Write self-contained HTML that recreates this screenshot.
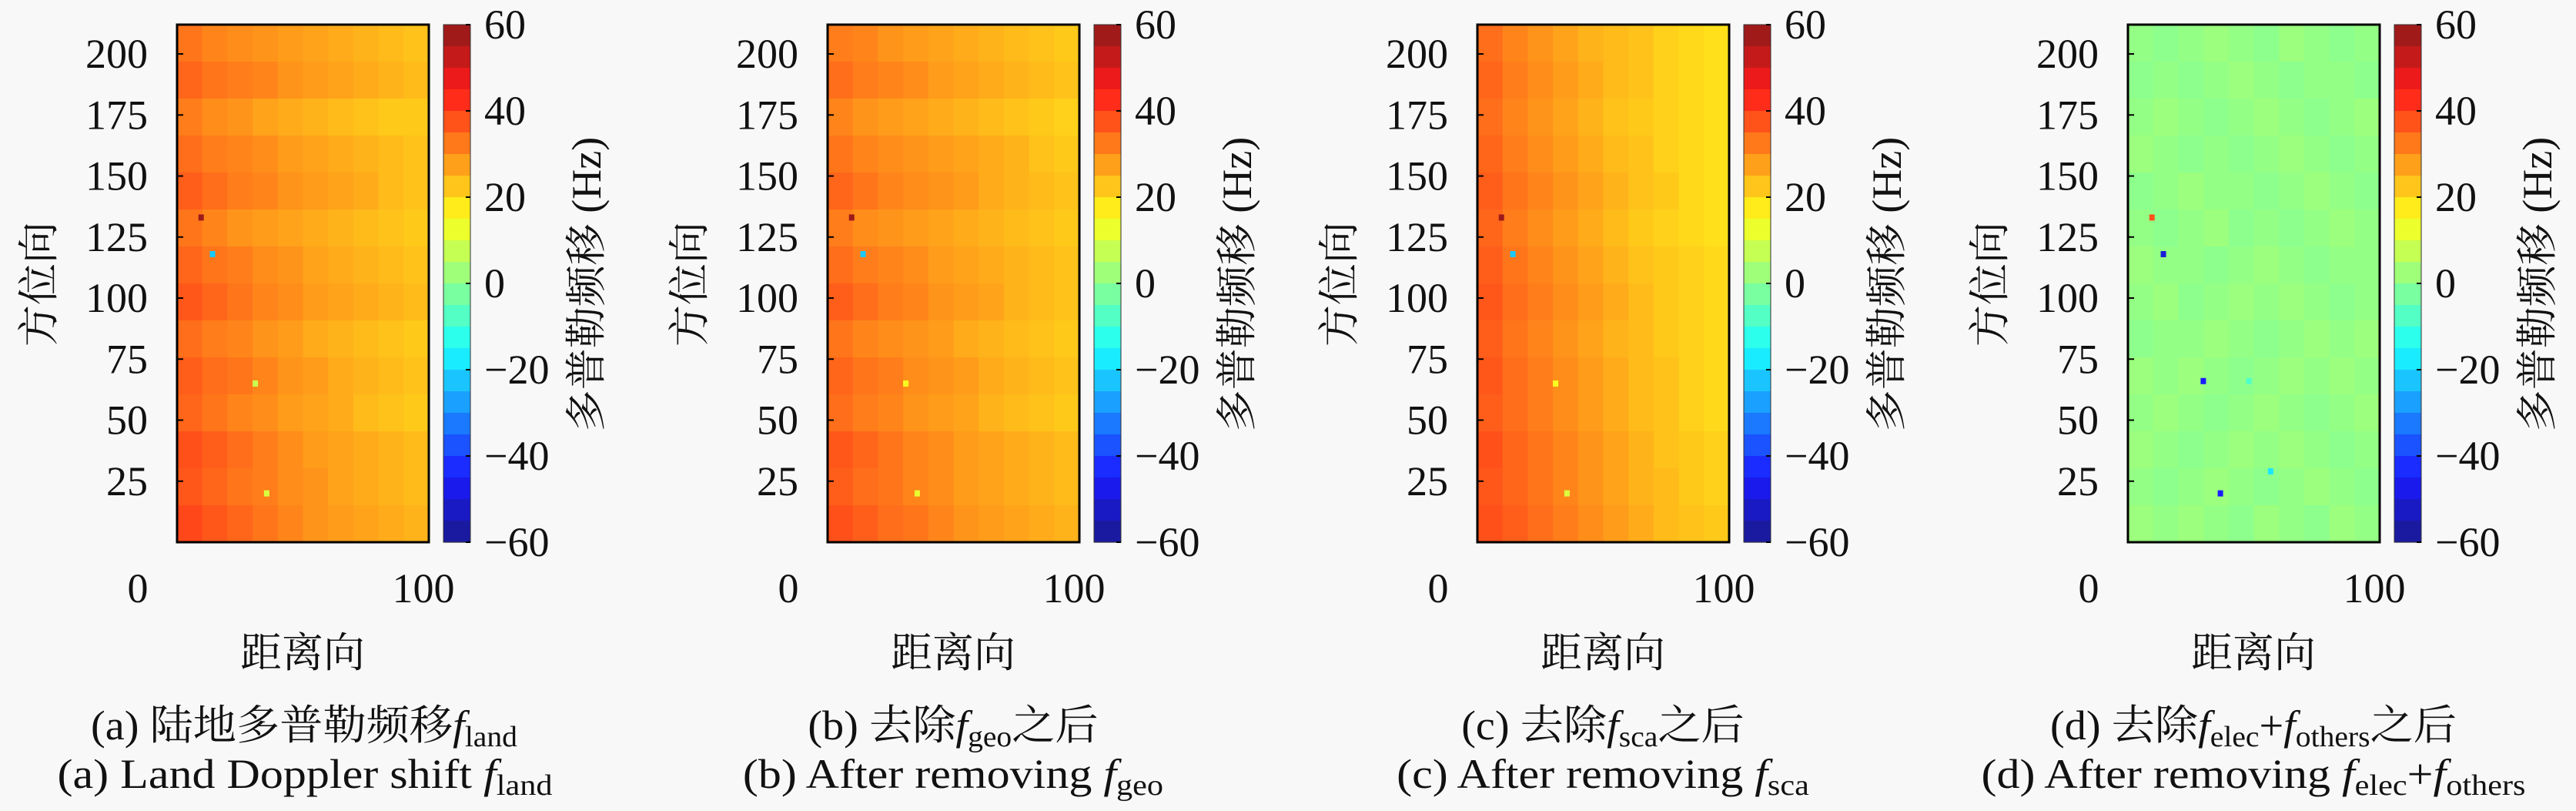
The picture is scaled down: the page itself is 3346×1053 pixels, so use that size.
<!DOCTYPE html>
<html><head><meta charset="utf-8"><style>
html,body{margin:0;padding:0;background:#f8f8f8;}
svg{display:block;}
text{font-family:"Liberation Serif","Noto Serif CJK SC",serif;fill:#111;}
</style></head><body>
<svg id="fig" width="3346" height="1053" viewBox="0 0 3346 1053" xmlns="http://www.w3.org/2000/svg"></svg>
<script>
// ---- data ----
const yTicks = [25, 50, 75, 100, 125, 150, 175, 200];
const xTickLabels = [0, 100];
const cbTicks = [60, 40, 20, 0, -20, -40, -60];
const xMin = 13.7, xMax = 102, yMin = 0, yMax = 212;
const vMin = -60, vMax = 60;
const gridA = [
[33,31,30,29,28,27,26,25,24,23],[35,33,32,31,29,28,27,26,25,24],[32,30,29,27,26,25,24,23,22,22],
[34,32,31,30,28,27,26,25,24,23],[36,34,32,31,29,28,27,26,24,23],[33,31,29,28,27,26,25,24,23,22],
[35,33,32,30,29,27,26,25,24,23],[37,35,33,31,30,28,27,26,25,24],[34,32,31,29,28,26,25,24,23,22],
[36,34,33,31,29,28,26,25,24,23],[35,33,31,30,28,27,26,24,23,22],[38,36,34,32,30,28,27,26,25,24],
[37,35,33,32,30,29,27,26,25,24],[39,37,35,33,31,29,28,27,26,25]];
const gridB = [
[32,31,29,28,27,26,25,24,23,22],[34,32,31,30,28,27,26,25,24,23],[31,29,28,27,26,25,24,23,22,21],
[33,31,30,29,28,27,26,25,23,22],[35,33,31,30,29,28,26,25,24,23],[32,30,29,28,27,26,25,24,23,22],
[34,32,31,30,28,27,26,25,24,23],[36,34,32,31,29,28,27,25,24,23],[33,31,30,29,28,26,25,24,23,22],
[35,33,32,30,29,28,26,25,24,23],[34,32,31,29,28,27,25,24,23,22],[37,35,33,31,30,28,27,26,25,24],
[36,34,33,31,30,28,27,26,25,24],[38,36,34,33,31,29,28,27,26,25]];
const gridC = [
[34,31,29,27,25,24,23,21,20,19],[35,32,30,28,26,24,23,21,20,19],[34,31,29,27,25,23,22,21,20,19],
[35,32,30,28,26,24,23,21,20,19],[36,33,31,29,27,25,23,22,20,19],[35,32,30,28,26,24,22,21,20,19],
[36,33,31,29,27,25,23,22,21,20],[37,34,32,30,28,26,24,22,21,20],[36,33,31,29,27,25,24,22,21,20],
[37,34,32,30,28,26,24,23,21,20],[36,34,32,30,28,26,24,23,21,20],[38,35,33,31,29,27,25,23,22,21],
[37,35,33,31,29,27,25,24,22,21],[38,36,34,32,30,28,26,24,23,22]];
const gridD = [
[1,0,1,2,1,0,2,1,0,1],[0,1,0,1,2,1,0,1,1,0],[1,2,1,0,1,2,1,0,1,2],
[2,1,0,1,0,1,2,1,0,1],[0,1,2,1,1,0,1,2,1,0],[1,0,1,2,0,1,0,1,2,1],
[2,1,1,0,1,2,1,0,1,1],[1,2,0,1,2,1,2,1,0,1],[0,1,1,2,1,0,1,2,1,2],
[2,1,2,1,0,1,2,1,2,1],[1,2,1,0,1,2,1,0,1,2],[2,1,0,1,2,1,2,1,0,1],
[1,0,1,2,1,0,1,2,1,0],[2,1,2,1,0,2,1,0,2,1]];
const outA = [[22,133,58],[26,118,-22],[41,65,8],[45,20,10]];
const outB = [[22,133,58],[26,118,-22],[41,65,14],[45,20,12]];
const outC = [[22,133,58],[26,118,-22],[41,65,14],[45,20,10]];
const outD = [[22,133,38],[26,118,-50],[40,66,-45],[46,20,-45],[63.6,29,-18],[56,66,-8]];

const panels = [
 {x0:230, grid:gridA, out:outA},
 {x0:1075, grid:gridB, out:outB},
 {x0:1919, grid:gridC, out:outC},
 {x0:2764, grid:gridD, out:outD}
];

const NS = 'http://www.w3.org/2000/svg';
const svg = document.getElementById('fig');
function mk(tag, attrs, parent){const e=document.createElementNS(NS,tag);for(const k in attrs)e.setAttribute(k,attrs[k]);(parent||svg).appendChild(e);return e;}
function jet(v){
  const t=Math.max(0,Math.min(1,(v-vMin)/(vMax-vMin)));
  const c=x=>Math.round(255*Math.max(0,Math.min(1,x)));
  const r=c(1.5-Math.abs(4*t-3)), g=c(1.5-Math.abs(4*t-2)), b=c(1.5-Math.abs(4*t-1));
  const w=0.1; return `rgb(${Math.round(r+(255-r)*w)},${Math.round(g+(255-g)*w)},${Math.round(b+(255-b)*w)})`;
}
const PW=327, PT=32, PB=704, PH=PB-PT, FS=54;

panels.forEach((p,pi)=>{
  const g=mk('g',{});
  
  
  const sx=v=>p.x0+(v-xMin)/(xMax-xMin)*PW;
  const sy=v=>PB-(v-yMin)/(yMax-yMin)*PH;
  const rows=p.grid.length, cols=p.grid[0].length;
  const hm=mk('g',{},g);
  
  
  p.grid.forEach((row,ri)=>row.forEach((v,ci)=>{
    const xa=xMin+(xMax-xMin)*ci/cols, xb=xMin+(xMax-xMin)*(ci+1)/cols;
    const ya=yMax-(yMax-yMin)*ri/rows, yb=yMax-(yMax-yMin)*(ri+1)/rows;
    const r=mk('rect',{x:sx(xa),y:sy(ya),width:sx(xb)-sx(xa)+0.6,height:sy(yb)-sy(ya)+0.6,fill:jet(v)},hm);
    
    
  }));
  p.out.forEach(o=>{
    const r=mk('rect',{x:sx(o[0])-3,y:sy(o[1])-4,width:7,height:8,fill:jet(o[2])},hm);
    
    
  });
  const fr=mk('rect',{x:p.x0,y:PT,width:PW,height:PH,fill:'none',stroke:'#000','stroke-width':3},g);
  
  
  yTicks.forEach(t=>{
    mk('line',{x1:p.x0,x2:p.x0+8,y1:sy(t),y2:sy(t),stroke:'#000','stroke-width':2},g);
    const tx=mk('text',{x:p.x0-38,y:sy(t)+18,'font-size':FS,'text-anchor':'end'},g);
    tx.textContent=t;
    
    
  });
  xTickLabels.forEach(t=>{
    const px=p.x0-51+t*3.71;
    const tx=mk('text',{x:px,y:782,'font-size':FS,'text-anchor':'middle'},g);
    tx.textContent=t;
    
    
  });
  const yl=mk('text',{x:0,y:0,'font-size':FS,'text-anchor':'middle',transform:`translate(${p.x0-161},${369}) rotate(-90)`},g);
  yl.textContent='方位向';
  
  
  const xl=mk('text',{x:p.x0+163,y:866,'font-size':FS,'text-anchor':'middle'},g);
  xl.textContent='距离向';
  
  
  const cbx=p.x0+346, cbw=35;
  const cb=mk('g',{},g);
  
  
  const N=24;
  for(let i=0;i<N;i++){
    const v=vMax-(vMax-vMin)*(i+0.5)/N;
    mk('rect',{x:cbx,y:PT+PH*i/N,width:cbw,height:PH/N+0.6,fill:jet(v)},cb);
  }
  mk('rect',{x:cbx,y:PT,width:cbw,height:PH,fill:'none',stroke:'#333','stroke-width':1},cb);
  cbTicks.forEach(t=>{
    const y=PT+(vMax-t)/(vMax-vMin)*PH;
    mk('line',{x1:cbx+cbw-6,x2:cbx+cbw,y1:y,y2:y,stroke:'#000','stroke-width':2},cb);
    const tx=mk('text',{x:cbx+53,y:y+18,'font-size':FS},cb);
    tx.textContent=t<0?'\u2212'+(-t):String(t);
    
    
  });
  const cl=mk('text',{x:0,y:0,'font-size':FS,'text-anchor':'middle',transform:`translate(${p.x0+550},${369}) rotate(-90)`},g);
  cl.textContent='多普勒频移 (Hz)';
  
  
});

const caps=[];
function caption(cx,y,parts,name){
  const t=mk('text',{x:cx,y:y,'font-size':FS,'text-anchor':'middle'});
  
  
  parts.forEach(pt=>{
    const s=mk('tspan',{},t);
    if(pt[1]==='i'){s.setAttribute('font-style','italic');}
    if(pt[1]==='sub'){s.setAttribute('font-size','38');s.setAttribute('dy','9');}
    if(pt[1]==='up'){s.setAttribute('dy','-9');}
    s.textContent=pt[0];
  });
  caps.push({t,cx,y,cn:name.endsWith('cn')});
}
caption(395,960,[['(a) 陆地多普勒频移'],['f','i'],['land','sub']],'caption-a-cn');
caption(396,1023,[['(a) Land Doppler shift '],['f','i'],['land','sub']],'caption-a-en');
caption(1238,960,[['(b) 去除'],['f','i'],['geo','sub'],['之后','up']],'caption-b-cn');
caption(1238,1023,[['(b) After removing '],['f','i'],['geo','sub']],'caption-b-en');
caption(2082,960,[['(c) 去除'],['f','i'],['sca','sub'],['之后','up']],'caption-c-cn');
caption(2082,1023,[['(c) After removing '],['f','i'],['sca','sub']],'caption-c-en');
caption(2927,960,[['(d) 去除'],['f','i'],['elec','sub'],['+','up'],['f','i'],['others','sub'],['之后','up']],'caption-d-cn');
caption(2927,1023,[['(d) After removing '],['f','i'],['elec','sub'],['+','up'],['f','i'],['others','sub']],'caption-d-en');
// widen captions to match the Computer Modern widths of the reference
const kCn = 554 / caps[0].t.getBBox().width;
const kEn = 643 / caps[1].t.getBBox().width;
caps.forEach(c=>{
  const k=c.cn?kCn:kEn;
  c.t.setAttribute('transform',`translate(${c.cx},0) scale(${k},1) translate(${-c.cx},0)`);
});
</script>
</body></html>
